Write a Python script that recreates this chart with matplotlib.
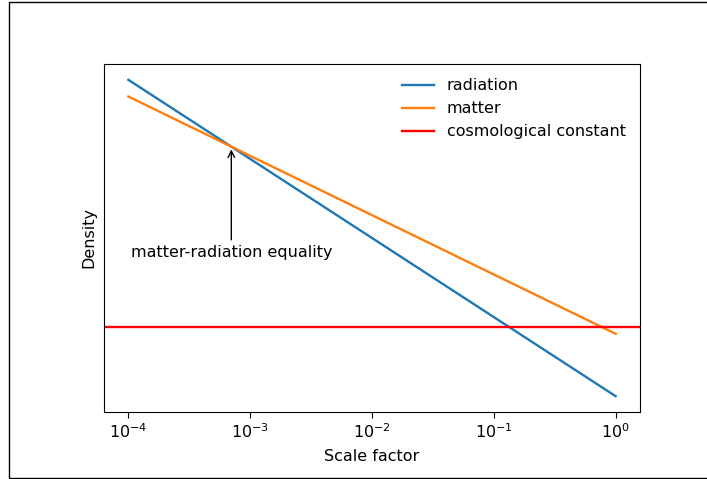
import matplotlib
matplotlib.use("Agg")
import matplotlib.pyplot as plt
from matplotlib.patches import Rectangle

# energy densities at the two ends of the scale factor range
scale_factor = [1e-4, 1.0]
radiation = [2.1e12, 2.1e-4]
matter = [3.0e11, 0.3]
cosmological_constant = 0.7

# matter-radiation equality
a_eq = 7e-4
rho_eq = 8.75e8

plt.rcParams["font.size"] = 11.5

fig = plt.figure(figsize=(7.07, 4.79), dpi=100)
ax = fig.add_axes([104 / 707, 67 / 479, 536 / 707, 348 / 479])

ax.plot(scale_factor, radiation, lw=1.7, label="radiation")
ax.plot(scale_factor, matter, lw=1.7, label="matter")
ax.axhline(cosmological_constant, color="red", lw=1.7, label="cosmological constant")

ax.set_xscale("log")
ax.set_yscale("log")
ax.set_xticks([1e-4, 1e-3, 1e-2, 1e-1, 1e0])
ax.xaxis.set_minor_locator(matplotlib.ticker.NullLocator())
ax.set_yticks([])
ax.yaxis.set_minor_locator(matplotlib.ticker.NullLocator())
ax.tick_params(length=4)

ax.set_xlabel("Scale factor", labelpad=5.5)
ax.set_ylabel("Density", labelpad=5.5)
ax.legend(loc="upper right", frameon=False)

ax.annotate("matter-radiation equality", xy=(a_eq, rho_eq),
            xytext=(0, -76.5), textcoords="offset points",
            ha="center", va="center",
            arrowprops=dict(arrowstyle="->", color="black"))

# outline around the figure
fig.patches.append(Rectangle((9 / 707, 1.5 / 479), 1.2, 1 - 3 / 479,
                             transform=fig.transFigure, fill=False,
                             edgecolor="black", linewidth=1))

fig.savefig("out.png", dpi=100)
